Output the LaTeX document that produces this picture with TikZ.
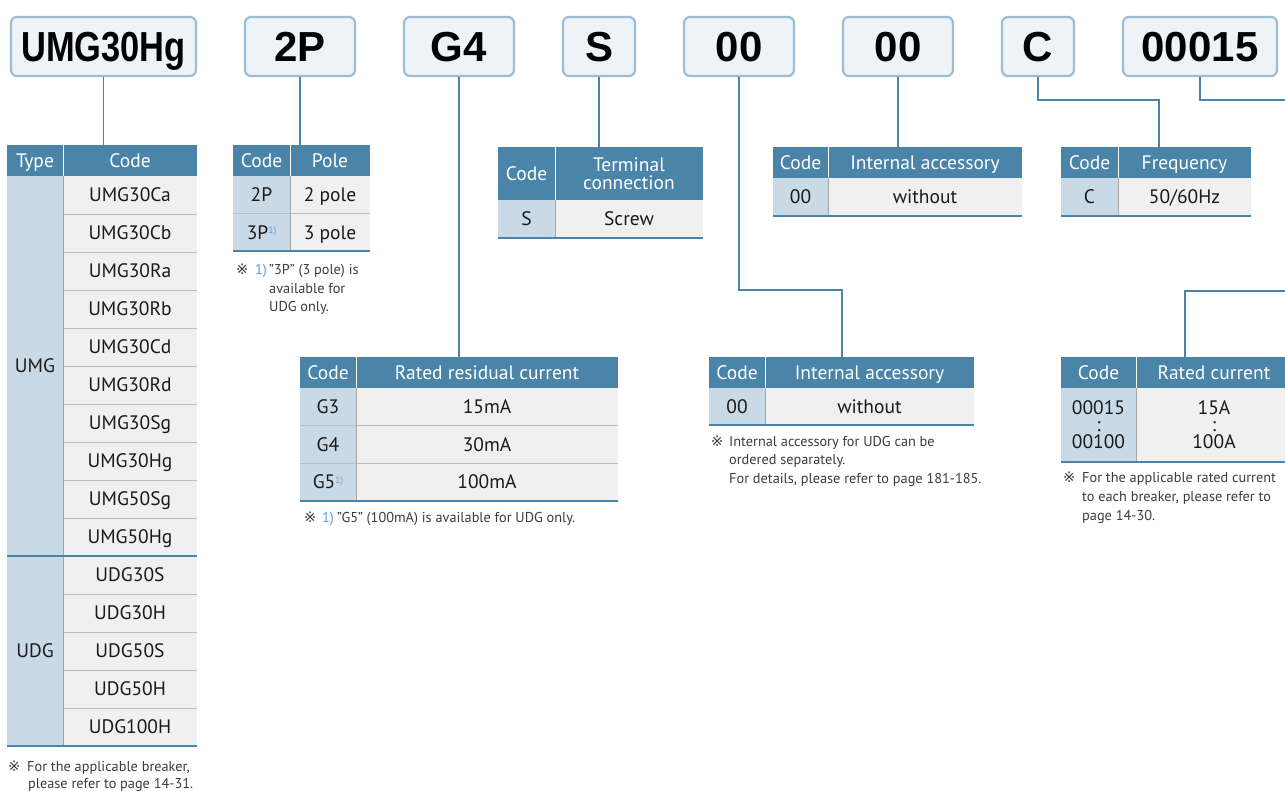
\documentclass[tikz,border=0pt]{standalone}
\usepackage{fontspec}
\setmainfont{PT Sans}
\newfontfamily\hdrfont{Liberation Sans}
\newfontfamily\refmark{DejaVu Sans}
\usetikzlibrary{calc}
\definecolor{hblue}{HTML}{4A84A9}
\definecolor{codef}{HTML}{C9DAE6}
\definecolor{cellf}{HTML}{F0F0F0}
\definecolor{sepg}{HTML}{BDBDBD}
\definecolor{vsep}{HTML}{A5A5A5}
\definecolor{boxf}{HTML}{EEF3F8}
\definecolor{boxb}{HTML}{9CBDD3}
\definecolor{fncol}{HTML}{3C3C3C}
\definecolor{supcol}{HTML}{5E9DCB}
\definecolor{txt}{HTML}{1A1A1A}
\tikzset{
 codebox/.style={draw=boxb, line width=2.2pt, fill=boxf, rounded corners=6pt, inner sep=0pt,
   font=\hdrfont\bfseries\fontsize{42}{42}\selectfont, text height=30pt, text depth=0pt, minimum height=59pt},
 link/.style={draw=hblue, line width=1.4pt},
 cellbase/.style={inner sep=0pt, outer sep=0pt, font=\fontsize{19.5}{19.5}\selectfont},
 capc/.style={text height=13.6pt, text depth=0pt},
 hcell/.style={cellbase, capc, fill=hblue, text=white},
 hcellml/.style={cellbase, fill=hblue, text=white, align=center},
 ccell/.style={cellbase, capc, fill=codef, text=txt},
 vcell/.style={cellbase, capc, fill=cellf, text=txt},
 mlcell/.style={cellbase, text=txt, align=center, font=\fontsize{19.5}{17}\selectfont},
 fn/.style={text=fncol, font=\fontsize{14.3}{14.3}\selectfont, anchor=base west, inner sep=0pt},
 fnrm/.style={text=fncol, font=\refmark\fontsize{14.5}{14.5}\selectfont, anchor=base west, inner sep=0pt},
 fnno/.style={text=supcol, font=\fontsize{14.3}{14.3}\selectfont, anchor=base west, inner sep=0pt},
 rowsep/.style={draw=sepg, line width=1pt},
 colsep/.style={draw=vsep, line width=1pt},
 hsep/.style={draw=white, line width=1pt},
 tbot/.style={draw=hblue, line width=2pt},
}
\newcommand\fnmark{\raisebox{5.5pt}{\fontsize{9.5}{9.5}\selectfont\color{supcol}1)}}
\newcommand\cel[7]{%
  \pgfmathsetmacro\celX{((#3)+(#5))/2}\pgfmathsetmacro\celY{((#4)+(#6))/2}%
  \pgfmathsetmacro\celW{(#5)-(#3)}\pgfmathsetmacro\celH{(#6)-(#4)}%
  \node[#1, minimum width=\celW pt, minimum height=\celH pt] (#2) at (\celX,\celY) {#7};}
\begin{document}
\begin{tikzpicture}[x=1pt,y=-1pt]
\useasboundingbox[fill=white] (0,0) rectangle (1285,790);

% ---------- code boxes ----------
\node[codebox, minimum width=185pt] (bUMG) at (103.5,46.5) {\scalebox{0.82}[1]{UMG30Hg}};
\node[codebox, minimum width=110pt] (b2P) at (300,46.5) {2P};
\node[codebox, minimum width=110pt] (bG4) at (459,46.5) {G4};
\node[codebox, minimum width=72pt] (bS) at (599,46.5) {S};
\node[codebox, minimum width=110pt] (b00a) at (739,46.5) {00};
\node[codebox, minimum width=110pt] (b00b) at (898,46.5) {00};
\node[codebox, minimum width=72pt] (bC) at (1038,46.5) {C};
\node[codebox, minimum width=154pt] (bA) at (1200,46.5) {00015};

% ---------- table 1: Type / Code ----------
\cel{hcell}{t1h1}{7}{145}{63}{176}{Type}
\cel{hcell}{t1h2}{63}{145}{197}{176}{Code}
\cel{ccell}{t1umg}{7}{176}{63}{556}{UMG}
\cel{ccell}{t1udg}{7}{556}{63}{746}{UDG}
\foreach \t [count=\i from 0] in {UMG30Ca,UMG30Cb,UMG30Ra,UMG30Rb,UMG30Cd,UMG30Rd,UMG30Sg,UMG30Hg,UMG50Sg,UMG50Hg,UDG30S,UDG30H,UDG50S,UDG50H,UDG100H}{
  \cel{vcell}{t1r\i}{63}{176+38*\i}{197}{214+38*\i}{\t}
}
\foreach \i in {1,...,9,11,12,13,14}{ \draw[rowsep] (63,176+38*\i) -- (197,176+38*\i); }
\draw[colsep] (63,176) -- (63,746);
\draw[hsep] (63,145) -- (63,176);
\draw[tbot] (7,556) -- (197,556);
\draw[tbot] (7,746) -- (197,746);
\draw[link] (bUMG.south) -- (bUMG.south |- t1h2.north);
\node[fnrm] (f1a) at (8,771) {※};
\node[fn] (f1b) at (27,771) {For the applicable breaker,};
\node[fn] (f1c) at (28,788) {please refer to page 14-31.};

% ---------- table 2: Code / Pole ----------
\cel{hcell}{t2h1}{233}{145}{290}{176}{Code}
\cel{hcell}{t2h2}{290}{145}{370}{176}{Pole}
\cel{ccell}{t2c1}{233}{176}{290}{213.5}{2P}
\cel{vcell}{t2v1}{290}{176}{370}{213.5}{2 pole}
\cel{ccell}{t2c2}{233}{213.5}{290}{251}{3P\fnmark}
\cel{vcell}{t2v2}{290}{213.5}{370}{251}{3 pole}
\draw[rowsep] (233,213.5) -- (370,213.5);
\draw[colsep] (290,176) -- (290,251);
\draw[hsep] (290,145) -- (290,176);
\draw[tbot] (233,251) -- (370,251);
\draw[link] (b2P.south) -- (b2P.south |- t2h2.north);
\node[fnrm] (f2a) at (236,274) {※};
\node[fnno] (f2b) at (255,274) {1)};
\node[fn] (f2c) at (269,274) {"3P" (3 pole) is};
\node[fn] (f2d) at (269,293) {available for};
\node[fn] (f2e) at (269,311) {UDG only.};

% ---------- table 3: Code / Terminal connection ----------
\cel{hcell}{t3h1}{498}{147}{555}{200}{Code}
\node[hcellml, font=\fontsize{19.5}{18}\selectfont, minimum width=148pt, minimum height=53pt] (t3h2) at (629,173.5) {Terminal\\connection};
\cel{ccell}{t3c1}{498}{200}{555}{238}{S}
\cel{vcell}{t3v1}{555}{200}{703}{238}{Screw}
\draw[colsep] (555,200) -- (555,238);
\draw[hsep] (555,147) -- (555,200);
\draw[tbot] (498,238) -- (703,238);
\draw[link] (bS.south) -- (bS.south |- t3h2.north);

% ---------- table 4: Code / Internal accessory (top) ----------
\cel{hcell}{t4h1}{773}{147}{828}{178}{Code}
\cel{hcell}{t4h2}{828}{147}{1022}{178}{Internal accessory}
\cel{ccell}{t4c1}{773}{178}{828}{216}{00}
\cel{vcell}{t4v1}{828}{178}{1022}{216}{without}
\draw[colsep] (828,178) -- (828,216);
\draw[hsep] (828,147) -- (828,178);
\draw[tbot] (773,216) -- (1022,216);
\draw[link] (b00b.south) -- (b00b.south |- t4h2.north);

% ---------- table 5: Code / Frequency ----------
\cel{hcell}{t5h1}{1061}{147}{1118}{178}{Code}
\cel{hcell}{t5h2}{1118}{147}{1251}{178}{Frequency}
\cel{ccell}{t5c1}{1061}{178}{1118}{216}{C}
\cel{vcell}{t5v1}{1118}{178}{1251}{216}{50/60Hz}
\draw[colsep] (1118,178) -- (1118,216);
\draw[hsep] (1118,147) -- (1118,178);
\draw[tbot] (1061,216) -- (1251,216);
\coordinate (kC) at (1159,100);
\draw[link] (bC.south) |- (kC) -- (kC |- t5h2.north);

% ---------- table 6: Code / Rated residual current ----------
\cel{hcell}{t6h1}{300}{357}{356}{388}{Code}
\cel{hcell}{t6h2}{356}{357}{618}{388}{Rated residual current}
\cel{ccell}{t6c1}{300}{388}{356}{425.7}{G3}
\cel{vcell}{t6v1}{356}{388}{618}{425.7}{15mA}
\cel{ccell}{t6c2}{300}{425.7}{356}{463.3}{G4}
\cel{vcell}{t6v2}{356}{425.7}{618}{463.3}{30mA}
\cel{ccell}{t6c3}{300}{463.3}{356}{501}{G5\fnmark}
\cel{vcell}{t6v3}{356}{463.3}{618}{501}{100mA}
\draw[rowsep] (300,425.7) -- (618,425.7);
\draw[rowsep] (300,463.3) -- (618,463.3);
\draw[colsep] (356,388) -- (356,501);
\draw[hsep] (356,357) -- (356,388);
\draw[tbot] (300,501) -- (618,501);
\draw[link] (bG4.south) -- (bG4.south |- t6h2.north);
\node[fnrm] (f6a) at (304,522) {※};
\node[fnno] (f6b) at (322,522) {1)};
\node[fn] (f6c) at (337,522) {"G5" (100mA) is available for UDG only.};

% ---------- table 7: Code / Internal accessory (lower) ----------
\cel{hcell}{t7h1}{709}{357}{765}{388}{Code}
\cel{hcell}{t7h2}{765}{357}{974}{388}{Internal accessory}
\cel{ccell}{t7c1}{709}{388}{765}{425}{00}
\cel{vcell}{t7v1}{765}{388}{974}{425}{without}
\draw[colsep] (765,388) -- (765,425);
\draw[hsep] (765,357) -- (765,388);
\draw[tbot] (709,425) -- (974,425);
\coordinate (k7) at (842,290);
\draw[link] (b00a.south) |- (k7) -- (k7 |- t7h2.north);
\node[fnrm] (f7a) at (711,446) {※};
\node[fn] (f7b) at (729,446) {Internal accessory for UDG can be};
\node[fn] (f7c) at (729,464) {ordered separately.};
\node[fn] (f7d) at (729,483) {For details, please refer to page 181-185.};

% ---------- table 8: Code / Rated current ----------
\cel{hcell}{t8h1}{1061}{357}{1136}{388}{Code}
\cel{hcell}{t8h2}{1136}{357}{1292}{388}{Rated current}
\cel{ccell}{t8c1}{1061}{388}{1136}{462}{}
\cel{vcell}{t8v1}{1136}{388}{1292}{462}{}
\node[mlcell] (t8a) at (1098.5,425) {00015\\:\\00100};
\node[mlcell] (t8b) at (1214,425) {15A\\:\\100A};
\draw[colsep] (1136,388) -- (1136,462);
\draw[hsep] (1136,357) -- (1136,388);
\draw[tbot] (1061,462) -- (1292,462);
\coordinate (eA) at (1290,100);
\draw[link] (bA.south) |- (eA);
\coordinate (eB) at (1290,291);
\coordinate (k8) at (1185,291);
\draw[link] (eB) -- (k8) -- (k8 |- t8h2.north);
\node[fnrm] (f8a) at (1063,482) {※};
\node[fn] (f8b) at (1082,482) {For the applicable rated current};
\node[fn] (f8c) at (1082,501) {to each breaker, please refer to};
\node[fn] (f8d) at (1082,520) {page 14-30.};
\end{tikzpicture}
\end{document}
